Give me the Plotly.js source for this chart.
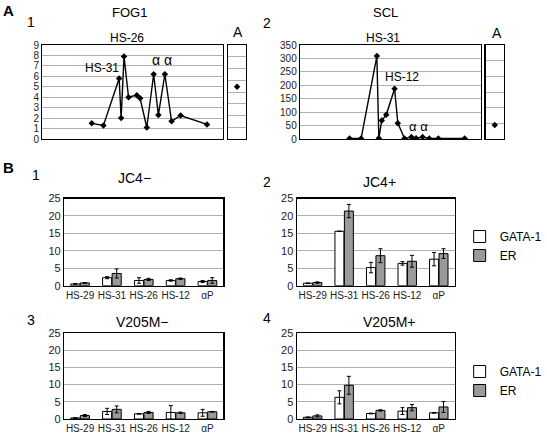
<!DOCTYPE html>
<html><head><meta charset="utf-8">
<script src="https://cdn.plot.ly/plotly-3.0.1.min.js"></script>
<style>html,body{margin:0;padding:0;background:#fff}#c{width:547px;height:433px}</style>
</head><body><div id="c"></div>
<script>
// Panel A: positions along locus (arbitrary units) and enrichment
const positions = [27.4, 33.8, 42.5, 43.6, 45.2, 47.7, 52.3, 54.1, 57.8, 61.6, 64.2, 67.8, 71.5, 76.5, 91.1];
const fog1Values = [1.5, 1.3, 5.8, 2.0, 7.9, 4.0, 4.2, 3.9, 1.1, 6.2, 2.3, 6.2, 1.7, 2.25, 1.4];
const sclValues = [2, 2, 309, 3, 69, 90, 187, 59, 2, 7, 3, 7, 2, 2, 2];
const fog1A = [5.0];
const sclA = [52];

// Panel B
const sites = ['HS-29', 'HS-31', 'HS-26', 'HS-12', 'αP'];
const jc4mGata = [0.5, 2.3, 1.5, 1.5, 1.2];
const jc4mGataErr = [0.1, 0.3, 0.8, 0.2, 0.3];
const jc4mEr = [0.8, 3.5, 1.8, 2.0, 1.5];
const jc4mErErr = [0.1, 1.3, 0.3, 0.2, 0.8];
const jc4pGata = [0.7, 15.6, 5.2, 6.4, 7.6];
const jc4pGataErr = [0.1, 0, 1.5, 0.5, 1.9];
const jc4pEr = [0.9, 21.4, 8.6, 7.0, 9.2];
const jc4pErErr = [0.2, 1.9, 2.0, 1.7, 1.4];
const v2mGata = [0.3, 2.2, 1.5, 1.9, 1.8];
const v2mGataErr = [0.1, 0.9, 0.1, 2.0, 1.0];
const v2mEr = [1.0, 2.8, 1.9, 1.8, 2.1];
const v2mErErr = [0.3, 1.0, 0.3, 0.2, 0.1];
const v2pGata = [0.5, 6.3, 1.6, 2.3, 1.8];
const v2pGataErr = [0.1, 1.9, 0.1, 1.0, 0.1];
const v2pEr = [0.9, 9.8, 2.5, 3.3, 3.5];
const v2pErErr = [0.3, 2.6, 0.2, 0.9, 1.6];

const W = 547, H = 433;
const FONT = 'Arial, "Liberation Sans", sans-serif';
const px = (a, b) => [a / W, b / W];
const py = (top, bottom) => [1 - bottom / H, 1 - top / H];

const lineA = {mode: 'lines+markers', line: {color: '#000', width: 1.4},
  marker: {symbol: 'diamond', size: 5, color: '#000'}, showlegend: false, hoverinfo: 'skip'};
const ptA = {mode: 'markers', marker: {symbol: 'diamond', size: 5, color: '#000'}, showlegend: false};

function bars(xa, ya, g, ge, e, ee, legend, show) {
  const common = {type: 'bar', x: sites, xaxis: xa, yaxis: ya, legend: legend, showlegend: show};
  return [
    Object.assign({}, common, {y: g, name: 'GATA-1', marker: {color: '#fff', line: {color: '#000', width: 1}},
      error_y: {type: 'data', array: ge, color: '#000', thickness: 1, width: 2}}),
    Object.assign({}, common, {y: e, name: 'ER', marker: {color: '#9a9a9a', line: {color: '#000', width: 1}},
      error_y: {type: 'data', array: ee, color: '#000', thickness: 1, width: 2}})
  ];
}

const data = [
  Object.assign({x: positions, y: fog1Values, xaxis: 'x', yaxis: 'y'}, lineA),
  Object.assign({x: [0.5], y: fog1A, xaxis: 'x2', yaxis: 'y2'}, ptA),
  Object.assign({x: positions, y: sclValues, xaxis: 'x3', yaxis: 'y3'}, lineA),
  Object.assign({x: [0.5], y: sclA, xaxis: 'x4', yaxis: 'y4'}, ptA),
  ...bars('x5', 'y5', jc4mGata, jc4mGataErr, jc4mEr, jc4mErErr, 'legend', false),
  ...bars('x6', 'y6', jc4pGata, jc4pGataErr, jc4pEr, jc4pErErr, 'legend', true),
  ...bars('x7', 'y7', v2mGata, v2mGataErr, v2mEr, v2mErErr, 'legend', false),
  ...bars('x8', 'y8', v2pGata, v2pGataErr, v2pEr, v2pErErr, 'legend2', true)
];

const frame = {showline: true, mirror: true, linecolor: '#000', linewidth: 1.3, zeroline: false};
function xLine(dom, range) {
  return Object.assign({domain: dom, range: range, showgrid: false, showticklabels: false, ticks: '', fixedrange: true}, frame);
}
function yAxis(dom, range, dtick, labels, fs, anchor) {
  return Object.assign({domain: dom, range: range, dtick: dtick, tick0: 0, showgrid: true, gridcolor: '#b0b0b0',
    gridwidth: 1, showticklabels: labels, ticks: '', tickfont: {family: FONT, size: fs, color: '#222'},
    anchor: anchor}, frame);
}
function xCat(dom, anchor) {
  return Object.assign({domain: dom, anchor: anchor, type: 'category', showgrid: false, ticks: '',
    tickfont: {family: FONT, size: 10, color: '#222'}}, frame);
}

const yA = py(45, 139), yB1 = py(198.5, 285.7), yB2 = py(333, 419);
const layout = {
  width: W, height: H, margin: {l: 0, r: 0, t: 0, b: 0}, paper_bgcolor: '#fff', plot_bgcolor: '#fff',
  font: {family: FONT, color: '#000'},
  barmode: 'group', bargap: 0.4, bargroupgap: 0.05,
  xaxis: Object.assign(xLine(px(44, 232), [0, 100]), {anchor: 'y'}),
  yaxis: yAxis(yA, [0, 9], 1, true, 10, 'x'),
  xaxis2: Object.assign(xLine(px(237, 256), [0, 1]), {anchor: 'y2'}),
  yaxis2: yAxis(yA, [0, 9], 9 / 8, false, 10, 'x2'),
  xaxis3: Object.assign(xLine(px(312, 500), [0, 100]), {anchor: 'y3'}),
  yaxis3: yAxis(yA, [0, 350], 50, true, 10, 'x3'),
  xaxis4: Object.assign(xLine(px(505, 524), [0, 1]), {anchor: 'y4'}),
  yaxis4: yAxis(yA, [0, 350], 350 / 6, false, 10, 'x4'),
  xaxis5: xCat(px(66.7, 232.3), 'y5'),
  yaxis5: yAxis(yB1, [0, 25], 5, true, 11, 'x5'),
  xaxis6: xCat(px(308.7, 472.7), 'y6'),
  yaxis6: yAxis(yB1, [0, 25], 5, true, 11, 'x6'),
  xaxis7: xCat(px(66.7, 232.3), 'y7'),
  yaxis7: yAxis(yB2, [0, 25], 5, true, 11, 'x7'),
  xaxis8: xCat(px(308.7, 472.7), 'y8'),
  yaxis8: yAxis(yB2, [0, 25], 5, true, 11, 'x8'),
  legend: {x: 478 / W, y: 1 - 222 / H, xanchor: 'left', yanchor: 'top', font: {family: FONT, size: 12},
    bgcolor: 'rgba(0,0,0,0)', tracegroupgap: 0, itemwidth: 30},
  legend2: {x: 478 / W, y: 1 - 357 / H, xanchor: 'left', yanchor: 'top', font: {family: FONT, size: 12},
    bgcolor: 'rgba(0,0,0,0)', tracegroupgap: 0, itemwidth: 30},
  annotations: []
};

function ann(text, x, y, size, bold) {
  layout.annotations.push({text: bold ? '<b>' + text + '</b>' : text, x: x / W, y: 1 - y / H,
    xref: 'paper', yref: 'paper', showarrow: false, xanchor: 'center', yanchor: 'middle',
    font: {family: FONT, size: size, color: '#000'}});
}
ann('A', 9, 10, 15, true);
ann('1', 32, 22, 14);
ann('FOG1', 135, 12, 13);
ann('HS-26', 132, 38, 12);
ann('HS-31', 106, 68, 12);
ann('α α', 168, 60, 14);
ann('A', 247, 32, 14);
ann('2', 278, 23, 14);
ann('SCL', 401, 12, 13);
ann('HS-31', 398, 38, 12);
ann('HS-12', 418, 77, 12);
ann('α α', 435, 127, 13);
ann('A', 517, 33, 14);
ann('B', 9, 167, 15, true);
ann('1', 37, 175, 14);
ann('JC4−', 140, 178, 14);
ann('2', 278, 182, 14);
ann('JC4+', 395, 182, 14);
ann('3', 32, 320, 14);
ann('V205M−', 148, 322, 14);
ann('4', 278, 318, 14);
ann('V205M+', 405, 322, 14);

Plotly.newPlot('c', data, layout, {staticPlot: true});
</script></body></html>
